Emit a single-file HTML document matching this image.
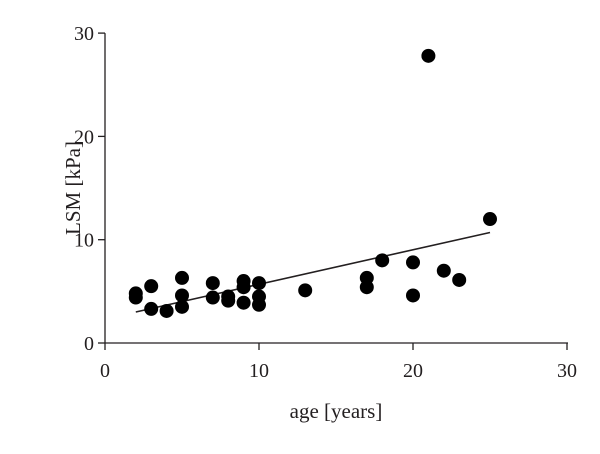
<!DOCTYPE html>
<html><head><meta charset="utf-8"><style>
body{margin:0;background:#fff;width:600px;height:449px;overflow:hidden}
text{font-family:"Liberation Serif",serif;fill:#231f20}
</style></head><body>
<svg id="chart" width="600" height="449" viewBox="0 0 600 449"></svg>
<script>
const xValues=[2,2,3,3,4,5,5,5,7,7,8,8,9,9,9,10,10,10,13,17,17,18,20,20,21,22,23,25];
const yValues=[4.8,4.4,5.5,3.3,3.1,6.3,4.6,3.5,5.8,4.4,4.5,4.1,6.0,5.4,3.9,5.8,4.5,3.7,5.1,6.3,5.4,8.0,7.8,4.6,27.8,7.0,6.1,12.0];
const fitX=[2,25];
const fitY=[3.0,10.7];
const xTicks=[0,10,20,30];
const yTicks=[0,10,20,30];
const sx=v=>105+v*15.4, sy=v=>343-v*10.33;
const svg=document.getElementById('chart');
const NS='http://www.w3.org/2000/svg';
function mk(t,a){const e=document.createElementNS(NS,t);for(const k in a)e.setAttribute(k,a[k]);svg.appendChild(e);return e;}
let e=mk('line',{x1:sx(0),y1:sy(0),x2:sx(30)+1,y2:sy(0),stroke:'#231f20','stroke-width':1.3});


e=mk('line',{x1:sx(0),y1:sy(0),x2:sx(0),y2:sy(30),stroke:'#231f20','stroke-width':1.3});


xTicks.forEach(t=>{
 let l=mk('line',{x1:sx(t),y1:sy(0),x2:sx(t),y2:sy(0)+7,stroke:'#231f20','stroke-width':1.3});
 
 
 let tx=mk('text',{x:sx(t),y:377,'text-anchor':'middle','font-size':20});tx.textContent=t;
 
 
});
yTicks.forEach(t=>{
 let l=mk('line',{x1:sx(0)-7,y1:sy(t),x2:sx(0),y2:sy(t),stroke:'#231f20','stroke-width':1.3});
 
 
 let tx=mk('text',{x:sx(0)-11,y:sy(t)+7,'text-anchor':'end','font-size':20});tx.textContent=t;
 
 
});
e=mk('text',{x:336,y:418,'text-anchor':'middle','font-size':21});e.textContent='age [years]';


e=mk('text',{x:0,y:0,'text-anchor':'middle','font-size':21,transform:'translate(80,188) rotate(-90)'});e.textContent='LSM [kPa]';


e=mk('line',{x1:sx(fitX[0]),y1:sy(fitY[0]),x2:sx(fitX[1]),y2:sy(fitY[1]),stroke:'#231f20','stroke-width':1.6});


xValues.forEach((x,i)=>{
 let c=mk('circle',{cx:sx(x),cy:sy(yValues[i]),r:7,fill:'#000'});
 
 
});
</script>
</body></html>
